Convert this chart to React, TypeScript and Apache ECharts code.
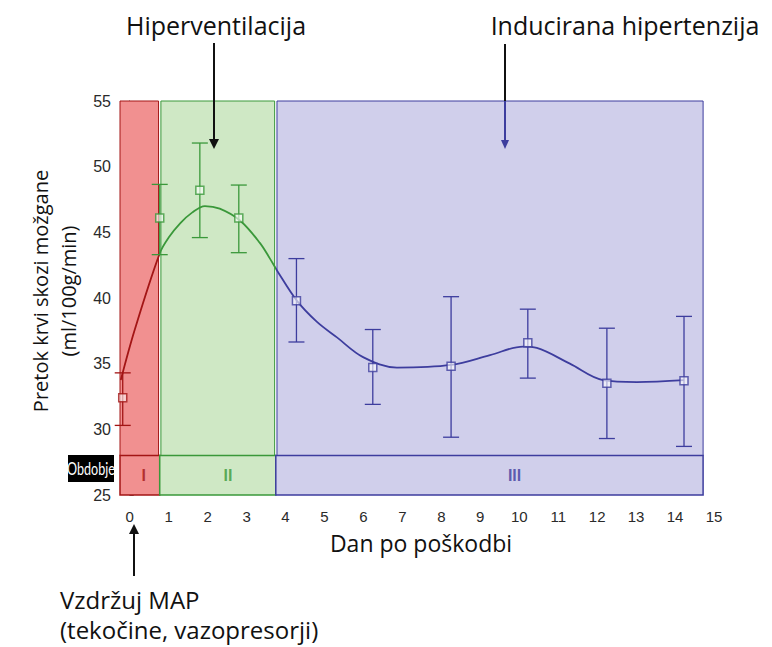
import React, { useEffect, useRef } from 'react';
import * as echarts from 'echarts';

// ---- data ----
const tickDays = [0, 1, 2, 3, 4, 5, 6, 7, 8, 9, 10, 11, 12, 13, 14, 15];

const days = [-0.18, 0.77, 1.8, 2.8, 4.28, 6.24, 8.25, 10.22, 12.25, 14.23];
const flowMean = [32.4, 46.1, 48.2, 46.1, 39.8, 34.7, 34.8, 36.6, 33.5, 33.7];
const errLow = [30.3, 43.3, 44.6, 43.45, 36.65, 31.9, 29.4, 33.9, 29.3, 28.7];
const errHigh = [34.3, 48.65, 51.8, 48.6, 43.0, 37.6, 40.1, 39.15, 37.7, 38.6];

const curveDays = [-0.23, 0.13, 0.77, 1.0, 1.3, 1.6, 1.93, 2.31, 2.83, 3.34, 3.6, 3.78, 4.29, 4.8, 5.32, 5.99, 6.86, 8.25, 9.25, 10.1, 10.45, 11.3, 12.15, 13.02, 14.23];
const curveFlow = [33.75, 37.6, 43.4, 44.6, 45.7, 46.5, 47.0, 46.8, 45.9, 44.2, 43.0, 42.1, 39.8, 38.2, 37.0, 35.5, 34.7, 34.9, 35.65, 36.3, 36.2, 35.0, 33.75, 33.6, 33.75];

const periodNames = ['I', 'II', 'III'];
const periodStart = [-0.25, 0.77, 3.75];
const periodEnd = [0.77, 3.75, 14.72];
const periodLabelDay = [0.36, 2.52, 9.88];
const stripTop = 28.0;

const periodFill = ['#f19090', '#cfe8c5', '#d0cfeb'];
const periodLine = ['#a31515', '#3a983a', '#3d3d9e'];

const colorFor = (d: number) => {
  for (let i = periodStart.length - 1; i >= 0; i--) {
    if (d >= periodStart[i]) return periodLine[i];
  }
  return periodLine[0];
};

const TEXT_FONT = 'Open Sans';
const AXIS_FONT = 'Liberation Sans';

export default function App() {
  const ref = useRef<HTMLDivElement>(null);

  useEffect(() => {
    if (!ref.current) return;
    const chart = echarts.init(ref.current, undefined, { renderer: 'svg' });

    const mainBands = periodNames.map((_, i) => [
      {
        xAxis: periodStart[i] + (i > 0 ? 0.03 : 0),
        yAxis: stripTop,
        itemStyle: { color: periodFill[i], borderColor: periodLine[i], borderWidth: 1 },
      },
      { xAxis: periodEnd[i] - (i < periodNames.length - 1 ? 0.03 : 0), yAxis: 55 },
    ]);
    const stripBoxes = periodNames.map((_, i) => [
      {
        xAxis: periodStart[i],
        yAxis: 25,
        itemStyle: { color: periodFill[i], borderColor: periodLine[i], borderWidth: 1.5 },
      },
      { xAxis: periodEnd[i], yAxis: stripTop },
    ]);

    const option: any = {
      animation: false,
      backgroundColor: '#ffffff',
      grid: { left: 120, right: 58, top: 101, bottom: 152 },
      xAxis: {
        type: 'value',
        min: -0.25,
        max: 15,
        interval: 0.25,
        axisLine: { show: false },
        axisTick: { show: false },
        splitLine: { show: false },
        axisLabel: {
          fontFamily: AXIS_FONT,
          fontSize: 15,
          color: '#2a2a2a',
          margin: 14,
          formatter: (v: number) => {
            const r = Math.round(v);
            return Math.abs(v - r) < 1e-6 && tickDays.includes(r) ? String(r) : '';
          },
        },
      },
      yAxis: {
        type: 'value',
        min: 25,
        max: 55,
        interval: 5,
        axisLine: { show: true, lineStyle: { color: '#444', width: 1 } },
        axisTick: { show: true, inside: true, length: 4, lineStyle: { color: '#666' } },
        splitLine: { show: false },
        axisLabel: { fontFamily: AXIS_FONT, fontSize: 16, color: '#2a2a2a', margin: 9 },
      },
      visualMap: {
        show: false,
        type: 'piecewise',
        dimension: 0,
        seriesIndex: 1,
        pieces: [
          { lt: periodStart[1], color: periodLine[0] },
          { gte: periodStart[1], lt: periodStart[2], color: periodLine[1] },
          { gte: periodStart[2], color: periodLine[2] },
        ],
      },
      series: [
        {
          name: 'bands',
          type: 'line',
          z: 1,
          data: [],
          silent: true,
          markArea: { silent: true, data: [...mainBands, ...stripBoxes] },
        },
        {
          name: 'fit',
          type: 'line',
          z: 3,
          smooth: 0.35,
          symbol: 'none',
          lineStyle: { width: 1.8 },
          data: curveDays.map((d, i) => [d, curveFlow[i]]),
        },
        {
          name: 'err',
          type: 'custom',
          z: 4,
          data: days.map((d, i) => [d, errLow[i], errHigh[i]]),
          encode: { x: 0, y: [1, 2] },
          renderItem: (params: any, api: any) => {
            const x = api.value(0);
            const lo = api.coord([x, api.value(1)]);
            const hi = api.coord([x, api.value(2)]);
            const c = colorFor(x);
            const w = 8;
            const st = { stroke: c, lineWidth: 1.3 };
            return {
              type: 'group',
              children: [
                { type: 'line', shape: { x1: hi[0], y1: hi[1], x2: lo[0], y2: lo[1] }, style: st },
                { type: 'line', shape: { x1: hi[0] - w, y1: hi[1], x2: hi[0] + w, y2: hi[1] }, style: st },
                { type: 'line', shape: { x1: lo[0] - w, y1: lo[1], x2: lo[0] + w, y2: lo[1] }, style: st },
              ],
            };
          },
        },
        {
          name: 'mean',
          type: 'scatter',
          z: 5,
          symbol: 'rect',
          symbolSize: 8,
          data: days.map((d, i) => ({
            value: [d, flowMean[i]],
            itemStyle: { color: 'rgba(255,255,255,0.75)', borderColor: colorFor(d), borderWidth: 1.5 },
          })),
        },
        {
          name: 'periods',
          type: 'scatter',
          z: 5,
          symbolSize: 0,
          silent: true,
          data: periodNames.map((n, i) => ({
            value: [periodLabelDay[i], 26.45],
            name: n,
            label: {
              show: true,
              position: 'inside',
              formatter: n,
              fontFamily: AXIS_FONT,
              fontWeight: 'bold',
              fontSize: 16,
              color: periodLine[i],
            },
          })),
        },
      ],
      graphic: [
        // top annotations
        {
          type: 'text', x: 216, y: 25,
          style: { text: 'Hiperventilacija', align: 'center', verticalAlign: 'middle', fontFamily: TEXT_FONT, fontSize: 25, fill: '#111' },
          z: 10,
        },
        { type: 'line', shape: { x1: 214, y1: 43, x2: 214, y2: 141 }, style: { stroke: '#111', lineWidth: 2 }, z: 10 },
        { type: 'polygon', shape: { points: [[209, 139], [219, 139], [214, 149]] }, style: { fill: '#111' }, z: 10 },
        {
          type: 'text', x: 625, y: 25,
          style: { text: 'Inducirana hipertenzija', align: 'center', verticalAlign: 'middle', fontFamily: TEXT_FONT, fontSize: 25, fill: '#111' },
          z: 10,
        },
        { type: 'line', shape: { x1: 505, y1: 44, x2: 505, y2: 101 }, style: { stroke: '#111', lineWidth: 2 }, z: 10 },
        { type: 'line', shape: { x1: 505, y1: 101, x2: 505, y2: 141 }, style: { stroke: '#3d3d9e', lineWidth: 2 }, z: 10 },
        { type: 'polygon', shape: { points: [[501, 140], [509, 140], [505, 149]] }, style: { fill: '#3d3d9e' }, z: 10 },
        // bottom annotation
        { type: 'line', shape: { x1: 134, y1: 576, x2: 134, y2: 532 }, style: { stroke: '#111', lineWidth: 2 }, z: 10 },
        { type: 'polygon', shape: { points: [[129, 534], [139, 534], [134, 524]] }, style: { fill: '#111' }, z: 10 },
        {
          type: 'text', x: 60, y: 599,
          style: { text: 'Vzdržuj MAP', align: 'left', verticalAlign: 'middle', fontFamily: TEXT_FONT, fontSize: 24, fill: '#111' },
          z: 10,
        },
        {
          type: 'text', x: 60, y: 629,
          style: { text: '(tekočine, vazopresorji)', align: 'left', verticalAlign: 'middle', fontFamily: TEXT_FONT, fontSize: 24, fill: '#111' },
          z: 10,
        },
        // y axis title
        {
          type: 'text', x: 54, y: 291, rotation: Math.PI / 2,
          style: {
            text: 'Pretok krvi skozi možgane\n(ml/100g/min)',
            align: 'center', verticalAlign: 'middle', lineHeight: 28,
            fontFamily: TEXT_FONT, fontSize: 20, fill: '#111',
          },
          z: 10,
        },
        // x axis title
        {
          type: 'text', x: 421, y: 543,
          style: { text: 'Dan po poškodbi', align: 'center', verticalAlign: 'middle', fontFamily: TEXT_FONT, fontSize: 23, fill: '#111' },
          z: 10,
        },
        // "Obdobje" tag
        { type: 'rect', shape: { x: 68, y: 455, width: 46, height: 27 }, style: { fill: '#000' }, z: 10 },
        {
          type: 'text', x: 91, y: 468.5, scaleX: 0.74,
          style: { text: 'Obdobje', align: 'center', verticalAlign: 'middle', fontFamily: 'Lato', fontSize: 17, fill: '#fff' },
          z: 11,
        },
      ],
    };

    chart.setOption(option);
    return () => chart.dispose();
  }, []);

  return (
    <div
      ref={ref}
      style={{ position: 'fixed', left: 0, top: 0, width: 772, height: 647, background: '#fff' }}
    />
  );
}
